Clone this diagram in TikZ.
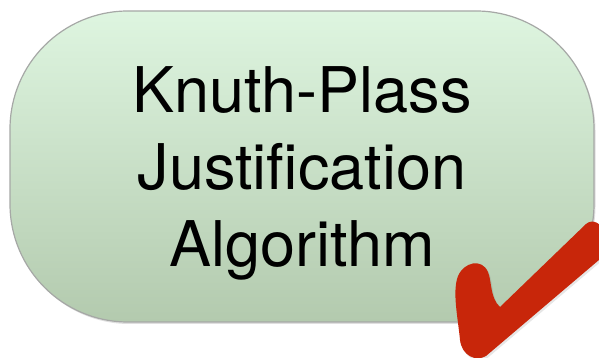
\documentclass[tikz,border=0pt]{standalone}
\usepackage{fontspec}
\setmainfont{TeX Gyre Heros}
\usetikzlibrary{shadows,positioning}

\definecolor{cardtop}{HTML}{DEF5E0}
\definecolor{cardbottom}{HTML}{B3CAAE}
\definecolor{cardline}{HTML}{A6A8A6}
\definecolor{checkred}{HTML}{C8260A}

\begin{document}
\begin{tikzpicture}[
    x=1pt, y=1pt,
    card/.style={rectangle, rounded corners=118pt, draw=cardline, line width=1.2pt, top color=cardtop, bottom color=cardbottom, minimum width=584pt, minimum height=311pt, drop shadow={shadow xshift=1.5pt, shadow yshift=-2pt, opacity=0.25}},
    title/.style={align=center, inner sep=0pt, font=\fontsize{63}{77}\selectfont}
]
\useasboundingbox (0,0) rectangle (599,358);
\clip (0,0) rectangle (599,358);

% Box
\node[card] (card) at (302,191.5) {};

% Text
\node[title] (label) at ([yshift=-7pt]card.center) {Knuth-Plass\\Justification\\Algorithm};

% Check mark
\fill[checkred, drop shadow={shadow xshift=1.5pt, shadow yshift=-2pt, opacity=0.2}]
  (500,51) -- (586,134)
  .. controls (593,140) and (601,134) .. (606,126) -- (606,104) -- (486,2)
  .. controls (476,-4) and (462,2) .. (460,18)
  .. controls (458,40) and (452,66) .. (458,82)
  .. controls (464,96) and (482,100) .. (488,86)
  .. controls (492,76) and (490,60) .. (500,51) -- cycle;

\end{tikzpicture}
\end{document}
